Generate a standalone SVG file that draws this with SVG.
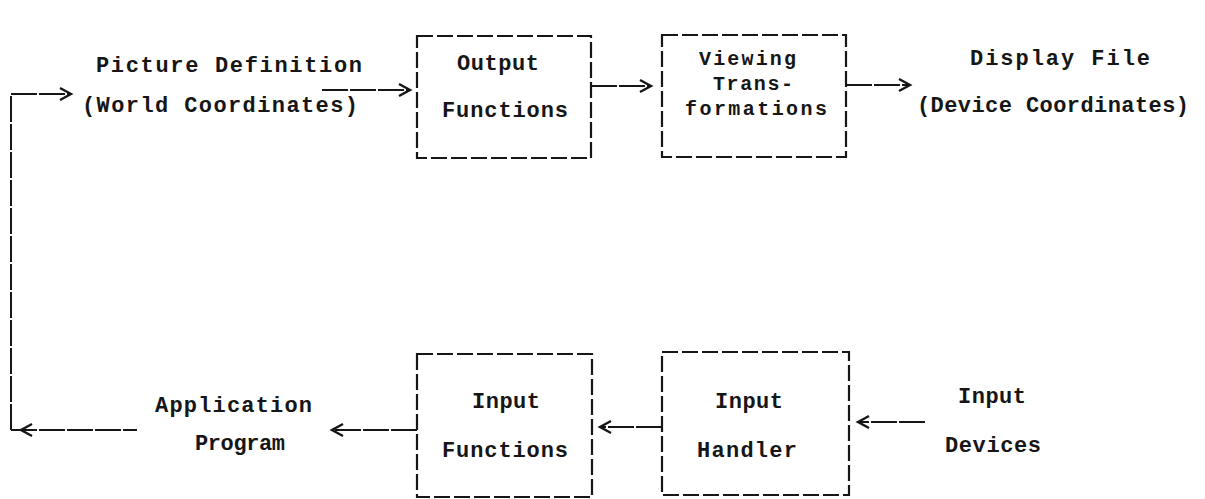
<svg xmlns="http://www.w3.org/2000/svg" width="1205" height="499" viewBox="0 0 1205 499">
<style>
text{font-family:"Liberation Mono","DejaVu Sans Mono",monospace;font-size:22px;fill:#161616;font-weight:bold}
.sm{font-size:20px}
.box{fill:none;stroke:#161616;stroke-width:2.2;stroke-dasharray:16 4}
.ln{fill:none;stroke:#161616;stroke-width:2;stroke-dasharray:26 2}
.hd{fill:none;stroke:#161616;stroke-width:2.4}
</style>
<rect width="1205" height="499" fill="#fff"/>
<g id="picture-definition">
<text x="96" y="72" textLength="266" lengthAdjust="spacing">Picture Definition</text>
<text x="82" y="112" textLength="276" lengthAdjust="spacing">(World Coordinates)</text>
</g>
<g id="output-functions">
<rect class="box" x="417" y="36" width="174" height="122"/>
<text x="457" y="70" textLength="82" lengthAdjust="spacing">Output</text>
<text x="442" y="117" textLength="126" lengthAdjust="spacing">Functions</text>
</g>
<g id="viewing-transformations">
<rect class="box" x="662" y="35" width="184" height="122"/>
<text class="sm" x="699" y="65" textLength="97" lengthAdjust="spacing">Viewing</text>
<text class="sm" x="713" y="90" textLength="80" lengthAdjust="spacing">Trans-</text>
<text class="sm" x="685" y="115" textLength="142" lengthAdjust="spacing">formations</text>
</g>
<g id="display-file">
<text x="970" y="65" textLength="180" lengthAdjust="spacing">Display File</text>
<text x="917" y="112" textLength="272" lengthAdjust="spacing">(Device Coordinates)</text>
</g>
<g id="application-program">
<text x="155" y="412" textLength="157" lengthAdjust="spacing">Application</text>
<text x="195" y="450" textLength="90" lengthAdjust="spacing">Program</text>
</g>
<g id="input-functions">
<rect class="box" x="417" y="354" width="175" height="143"/>
<text x="472" y="408" textLength="68" lengthAdjust="spacing">Input</text>
<text x="442" y="457" textLength="126" lengthAdjust="spacing">Functions</text>
</g>
<g id="input-handler">
<rect class="box" x="662" y="352" width="187" height="143"/>
<text x="715" y="408" textLength="68" lengthAdjust="spacing">Input</text>
<text x="697" y="457" textLength="100" lengthAdjust="spacing">Handler</text>
</g>
<g id="input-devices">
<text x="958" y="403" textLength="68" lengthAdjust="spacing">Input</text>
<text x="945" y="452" textLength="96" lengthAdjust="spacing">Devices</text>
</g>
<g id="connectors">
<path class="ln" d="M322 90 H410"/><path class="hd" d="M399 84 L410 90 L399 96"/>
<path class="ln" d="M591 86 H651"/><path class="hd" d="M640 80 L651 86 L640 92"/>
<path class="ln" d="M846 85 H910"/><path class="hd" d="M899 79 L910 85 L899 91"/>
<path class="ln" d="M11 430 V94 H70"/><path class="hd" d="M60 88 L71 94 L60 100"/>
<path class="ln" d="M11 430 H137"/><path class="hd" d="M32 424 L21 430 L32 436"/>
<path class="ln" d="M417 430 H332"/><path class="hd" d="M343 424 L332 430 L343 436"/>
<path class="ln" d="M662 427 H600"/><path class="hd" d="M611 421 L600 427 L611 433"/>
<path class="ln" d="M925 422 H858"/><path class="hd" d="M869 416 L858 422 L869 428"/>
</g>
</svg>
